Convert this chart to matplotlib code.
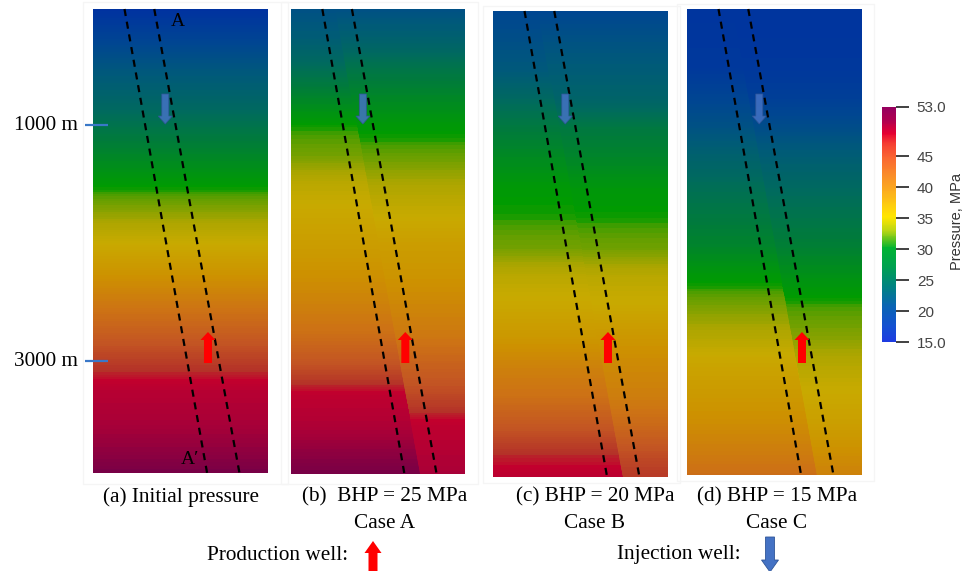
import numpy as np
import matplotlib
matplotlib.use("Agg")
import matplotlib.pyplot as plt
from matplotlib.colors import LinearSegmentedColormap, Normalize
from matplotlib.patches import FancyArrow, Rectangle
from matplotlib.cm import ScalarMappable

W, H = 968, 571

# ---------------- data (pressure in MPa) ----------------
DEPTH = [0, 250, 500, 750, 1000, 1250, 1500, 1750, 2000, 2250, 2500, 2750, 3000, 3250, 3500, 3750, 3930]

P_A = [15.0, 17.6, 20.3, 22.9, 25.6, 28.2, 30.9, 33.5, 36.2, 38.8, 41.5, 44.1, 46.8, 49.4, 50.5, 51.8, 53.0]

P_B_LEFT = [19.5, 21.5, 24.6, 27.9, 31.2, 32.6, 35.2, 36.5, 37.6, 39.0, 40.6, 42.4, 45.0, 48.5, 49.9, 51.8, 53.0]
P_B_RIGHT = [19.5, 22.3, 25.6, 28.2, 30.6, 32.2, 34.3, 35.9, 37.6, 38.6, 40.0, 41.4, 43.6, 45.7, 48.5, 49.7, 50.5]

P_C_LEFT = [18.0, 19.3, 20.8, 24.0, 26.6, 28.7, 30.6, 31.3, 32.5, 35.1, 36.5, 38.2, 40.5, 42.2, 44.7, 47.6, 48.9]
P_C_RIGHT = [18.0, 19.7, 21.3, 23.0, 26.4, 28.1, 30.2, 31.2, 32.4, 35.0, 36.3, 38.3, 39.8, 40.9, 43.0, 45.6, 47.0]

P_D_LEFT = [15.5, 15.7, 16.0, 17.8, 19.7, 22.5, 24.7, 26.3, 27.9, 30.4, 32.6, 34.5, 36.7, 38.0, 39.4, 41.1, 42.5]
P_D_RIGHT = [15.5, 15.6, 15.9, 16.9, 19.0, 21.6, 23.9, 25.5, 27.2, 29.4, 31.5, 32.9, 34.7, 36.2, 37.4, 39.2, 40.5]

CAPTIONS = ["(a) Initial pressure", "(b)  BHP = 25 MPa\nCase A",
            "(c) BHP = 20 MPa\nCase B", "(d) BHP = 15 MPa\nCase C"]
CB_TICKS = [15, 20, 25, 30, 35, 40, 45, 53]
CB_LABELS = ["15.0", "20", "25", "30", "35", "40", "45", "53.0"]
DEPTH_LABELS = ["1000 m", "3000 m"]
DEPTH_TICKS = [1000, 3000]

VMIN, VMAX = 15.0, 53.0

# ---------------- colormaps ----------------
def mk_cmap(name, pts):
    return LinearSegmentedColormap.from_list(
        name, [((v - VMIN) / (VMAX - VMIN), tuple(c / 255 for c in rgb)) for v, rgb in pts])

panel_cmap = mk_cmap("panel", [
    (15.0, (0, 50, 160)), (18.0, (0, 70, 145)), (21.0, (0, 90, 120)), (24.0, (0, 105, 95)),
    (27.0, (0, 125, 55)), (29.5, (0, 145, 20)), (31.0, (0, 155, 0)), (31.8, (90, 158, 0)),
    (34.0, (170, 165, 0)), (36.0, (200, 170, 0)), (39.0, (205, 145, 0)), (42.0, (205, 115, 20)),
    (45.0, (195, 85, 35)), (47.5, (180, 50, 40)), (48.3, (195, 0, 45)), (50.5, (170, 0, 55)),
    (53.0, (120, 0, 70))])

bar_cmap = mk_cmap("bar", [
    (15.0, (30, 60, 225)), (17.4, (20, 80, 210)), (20.7, (10, 100, 180)), (23.9, (0, 130, 130)),
    (27.1, (0, 160, 80)), (30.2, (0, 180, 50)), (31.5, (90, 195, 30)), (33.1, (190, 215, 20)),
    (35.2, (255, 230, 0)), (36.4, (255, 215, 10)), (38.5, (252, 185, 25)), (41.7, (250, 145, 40)),
    (45.0, (250, 100, 50)), (47.2, (245, 60, 50)), (48.8, (230, 0, 50)), (50.9, (175, 0, 80)),
    (53.0, (150, 0, 95))])
norm = Normalize(VMIN, VMAX)

# ---------------- figure ----------------
fig = plt.figure(figsize=(W / 100, H / 100), dpi=100)
fig.patch.set_facecolor("white")

SERIF = ["Liberation Serif", "DejaVu Serif"]
SANS = ["Liberation Sans", "DejaVu Sans"]

# panel boxes in pixels: left, top, right, bottom
BOXES = [(93, 9, 268, 473), (291, 9, 465, 474), (493, 11, 668, 477), (687, 9, 862, 475)]
FRAMES = [(83, 2, 288, 484), (281, 2, 478, 484), (483, 6, 680, 483), (677, 4, 874, 481)]
FIELDS = [(P_A, P_A), (P_B_LEFT, P_B_RIGHT), (P_C_LEFT, P_C_RIGHT), (P_D_LEFT, P_D_RIGHT)]
CAP_X = [181, 385, 595, 777]

L1 = (0.18, 0.655)   # dashed line 1 (top, bottom) as panel fraction
L2 = (0.35, 0.84)    # dashed line 2
BOT = 3930.0
levels = np.linspace(VMIN, VMAX, 191)

for (l, t, r, b), (pl, pr) in zip(BOXES, FIELDS):
    ax = fig.add_axes([l / W, 1 - b / H, (r - l) / W, (b - t) / H])
    ax.set_xlim(0, 1)
    ax.set_ylim(BOT, 0)
    ax.axis("off")
    d = np.array(DEPTH, dtype=float)
    f = d / BOT
    x1 = L1[0] + f * (L1[1] - L1[0])
    x2 = L2[0] + f * (L2[1] - L2[0])
    bnd = x1 + 0.45 * (x2 - x1)
    X = np.column_stack([np.zeros_like(d), bnd - 0.002, bnd + 0.002, np.ones_like(d)])
    Y = np.column_stack([d, d, d, d])
    Z = np.column_stack([pl, pl, pr, pr])
    ax.contourf(X, Y, Z, levels=levels, cmap=panel_cmap, norm=norm, extend="both",
                antialiased=False)
    for line in (L1, L2):
        ax.plot([line[0], line[1]], [0, BOT + 25], color="black", lw=1.6,
                ls=(0, (3.2, 2.6)), clip_on=False, zorder=5)

# colorbar
cax = fig.add_axes([882 / W, 1 - 342 / H, 14 / W, 235 / H])
cb = fig.colorbar(ScalarMappable(norm=norm, cmap=bar_cmap), cax=cax)
cb.outline.set_visible(False)
cb.set_ticks(CB_TICKS)
cb.set_ticklabels(CB_LABELS)
cax.tick_params(length=9, width=1.3, color="#333333", labelsize=11, labelcolor="#444444", pad=6)
for lab in cax.get_yticklabels():
    lab.set_family(SANS)

# overlay for annotations
ov = fig.add_axes([0, 0, 1, 1], zorder=10)
ov.set_xlim(0, W)
ov.set_ylim(H, 0)
ov.axis("off")
ov.patch.set_alpha(0)

for (fl, ft, fr, fb) in FRAMES:
    ov.add_patch(Rectangle((fl, ft), fr - fl, fb - ft, fill=False, ec="#f5f5f5", lw=1.0, zorder=0))

ov.text(957, 222, "Pressure, MPa", rotation=90, ha="center", va="center",
        fontsize=10.5, color="#333333", family=SANS)

# depth markers
px_per_m = (361 - 125) / 2000.0
for dt, lab in zip(DEPTH_TICKS, DEPTH_LABELS):
    y = 125 + (dt - 1000) * px_per_m
    ov.plot([85, 108], [y, y], color="#3a78c8", lw=1.6, solid_capstyle="butt")
    ov.text(46, y, lab, ha="center", va="center", fontsize=15.3, family=SERIF)

ov.text(178, 21, "A", ha="center", va="center", fontsize=14, family=SERIF)
ov.text(190, 460, "A\u2032", ha="center", va="center", fontsize=14, family=SERIF)

# well arrows inside panels
BLUE_F, RED_F = 0.413, 0.657
for (l, t, r, b) in BOXES:
    w = r - l
    bx = l + BLUE_F * w
    ov.add_patch(FancyArrow(bx, 94, 0, 30, width=7, head_width=14, head_length=8,
                            length_includes_head=True, fc="#4472c4", ec="#2f5597",
                            lw=0.6, alpha=0.85))
    rx = l + RED_F * w
    ov.add_patch(FancyArrow(rx, 363, 0, -31, width=8, head_width=15, head_length=8,
                            length_includes_head=True, fc="#ff0000", ec="none"))

# captions
for cx, cap in zip(CAP_X, CAPTIONS):
    lines = cap.split("\n")
    ov.text(cx, 497, lines[0], ha="center", va="center", fontsize=15.3, family=SERIF)
    if len(lines) > 1:
        ov.text(cx, 523, lines[1], ha="center", va="center", fontsize=15.3, family=SERIF)

# legend
ov.text(278, 556, "Production well:", ha="center", va="center", fontsize=15.3, family=SERIF)
ov.add_patch(FancyArrow(373, 576, 0, -35, width=9, head_width=17, head_length=12,
                        length_includes_head=True, fc="#ff0000", ec="none", clip_on=False))
ov.text(679, 554, "Injection well:", ha="center", va="center", fontsize=15.3, family=SERIF)
ov.add_patch(FancyArrow(770, 537, 0, 35, width=9, head_width=17, head_length=12,
                        length_includes_head=True, fc="#4472c4", ec="#2f5597", lw=0.6,
                        clip_on=False))

fig.savefig("out.png", dpi=100, facecolor="white")
